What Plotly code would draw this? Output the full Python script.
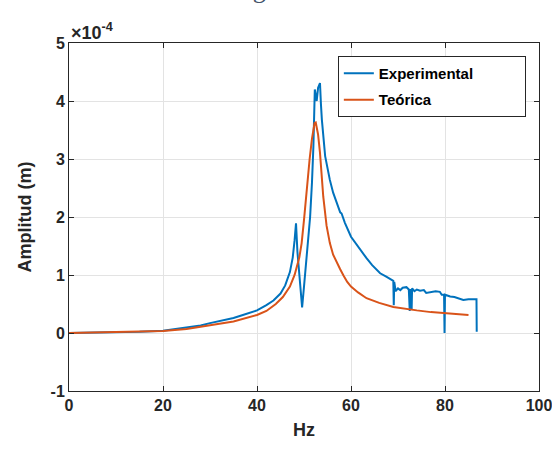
import plotly.graph_objects as go

# amplitudes in units of 1e-4 m (axis shows the x10^-4 multiplier)
exp_hz = [0, 5, 10, 15, 20, 25, 28, 30, 33, 35, 37, 40, 42, 43.5, 45, 46, 47, 47.6, 48.0,
          48.3, 48.6, 48.9, 49.3, 49.6, 50.0, 50.6, 51.3, 51.7, 52.0, 52.3, 52.5, 52.7,
          53.0, 53.4, 53.6, 53.8, 54.5, 55.5, 56.2, 57.0, 57.7, 58.0, 58.7, 60, 61.2,
          62.5, 63.3, 64.5, 66.2, 67.5, 68.5, 69.0, 69.1, 69.2, 69.5, 70.0, 70.5, 71.0,
          71.8, 72.3, 72.5, 72.6, 72.9, 73.0, 73.5, 74.0, 74.7, 75.5, 76, 77, 78, 78.9,
          79.3, 79.8, 79.9, 80.0, 80.5, 81.1, 82, 83, 83.9, 85, 86.7, 86.75]
exp_amp = [0.0, 0.005, 0.01, 0.02, 0.04, 0.09, 0.13, 0.17, 0.22, 0.26, 0.31, 0.39, 0.48, 0.56,
           0.68, 0.82, 1.05, 1.3, 1.6, 1.89, 1.4, 1.15, 0.7, 0.44, 0.8, 1.43, 2.0, 2.6, 3.22,
           4.2, 4.05, 4.0, 4.23, 4.31, 3.95, 3.68, 3.05, 2.64, 2.42, 2.24, 2.08, 2.06, 1.9,
           1.66, 1.52, 1.38, 1.29, 1.17, 1.03, 0.97, 0.93, 0.9, 0.48, 0.88, 0.72, 0.77, 0.74,
           0.78, 0.79, 0.75, 0.38, 0.76, 0.40, 0.77, 0.72, 0.75, 0.73, 0.74, 0.69, 0.70, 0.72,
           0.71, 0.66, 0.66, 0.0, 0.66, 0.64, 0.63, 0.62, 0.60, 0.57, 0.58, 0.58, 0.02]

teo_hz = [0, 10, 20, 25, 30, 35, 40, 42, 44, 45.5, 47, 48, 49, 49.5, 50.0, 50.6, 51.2, 51.7,
          52.0, 52.25, 52.5, 52.75, 53.0, 53.4, 54.1, 54.8, 55.5, 56.2, 57.0, 57.7, 58.4,
          59.2, 60, 61.5, 63.3, 66, 69, 72, 74, 77, 80, 82.5, 85]
teo_amp = [0.0, 0.015, 0.035, 0.07, 0.13, 0.2, 0.31, 0.38, 0.5, 0.62, 0.8, 1.0, 1.3, 1.55,
           1.95, 2.5, 3.0, 3.35, 3.52, 3.62, 3.63, 3.55, 3.42, 3.11, 2.35, 1.85, 1.55, 1.35,
           1.2, 1.1, 0.99, 0.88, 0.8, 0.7, 0.6, 0.52, 0.45, 0.41, 0.39, 0.36, 0.34, 0.325, 0.31]

x_ticks = [0, 20, 40, 60, 80, 100]
y_ticks = [-1, 0, 1, 2, 3, 4, 5]
y_ticktext = ['-1', '0', '1', '2', '3', '4', '5']

pad = '\u00a0' * 11  # widen the legend box like the reference

fig = go.Figure()
fig.add_trace(go.Scatter(x=exp_hz, y=exp_amp, mode='lines', name='Experimental' + pad,
                         legendgroup='a', line=dict(color='#0072BD', width=2)))
fig.add_trace(go.Scatter(x=teo_hz, y=teo_amp, mode='lines', name='Teórica',
                         legendgroup='b', line=dict(color='#D95319', width=2)))

axis_style = dict(showgrid=True, gridcolor='#e3e3e3', gridwidth=1, showline=True,
                  linecolor='#262626', linewidth=1, mirror='ticks', ticks='inside',
                  ticklen=5, tickcolor='#262626', zeroline=False, automargin=False,
                  ticklabeloverflow='allow',
                  tickfont=dict(size=16, color='#262626'),
                  title_font=dict(size=18, color='#262626'))

fig.update_layout(
    width=552,
    height=449,
    margin=dict(l=69, r=13, t=43, b=58),
    paper_bgcolor='white',
    plot_bgcolor='white',
    font=dict(family='Liberation Sans, Arial, sans-serif', weight='bold'),
    xaxis=dict(range=[0, 100], tickvals=x_ticks, title=dict(text='Hz', standoff=10), **axis_style),
    yaxis=dict(range=[-1, 5], tickvals=y_ticks, ticktext=y_ticktext,
               title=dict(text='Amplitud (m)', standoff=14), **axis_style),
    legend=dict(x=0.572, y=0.963, xanchor='left', yanchor='top', bgcolor='white',
                bordercolor='#262626', borderwidth=1, font=dict(size=15, color='black'),
                tracegroupgap=4),
    showlegend=True,
)

# x10^-4 multiplier
fig.add_annotation(xref='paper', yref='paper', x=0, y=1, xanchor='left', yanchor='bottom',
                   text='×10<sup>-4</sup>', showarrow=False, yshift=-2,
                   font=dict(size=18, color='#262626'))

# bottom of the caption line that the crop cuts off
fig.add_annotation(xref='paper', yref='paper', x=0.4245, y=1.106, xanchor='center',
                   yanchor='bottom', text='Magnitud', showarrow=False,
                   font=dict(family='Liberation Serif, serif', size=26, color='#44546A',
                             weight='normal'))

# drop the default 8px body margin so the figure fills the window exactly
fig.write_html("out.html", config={'displayModeBar': False},
               post_script="document.body.style.margin='0px';")
